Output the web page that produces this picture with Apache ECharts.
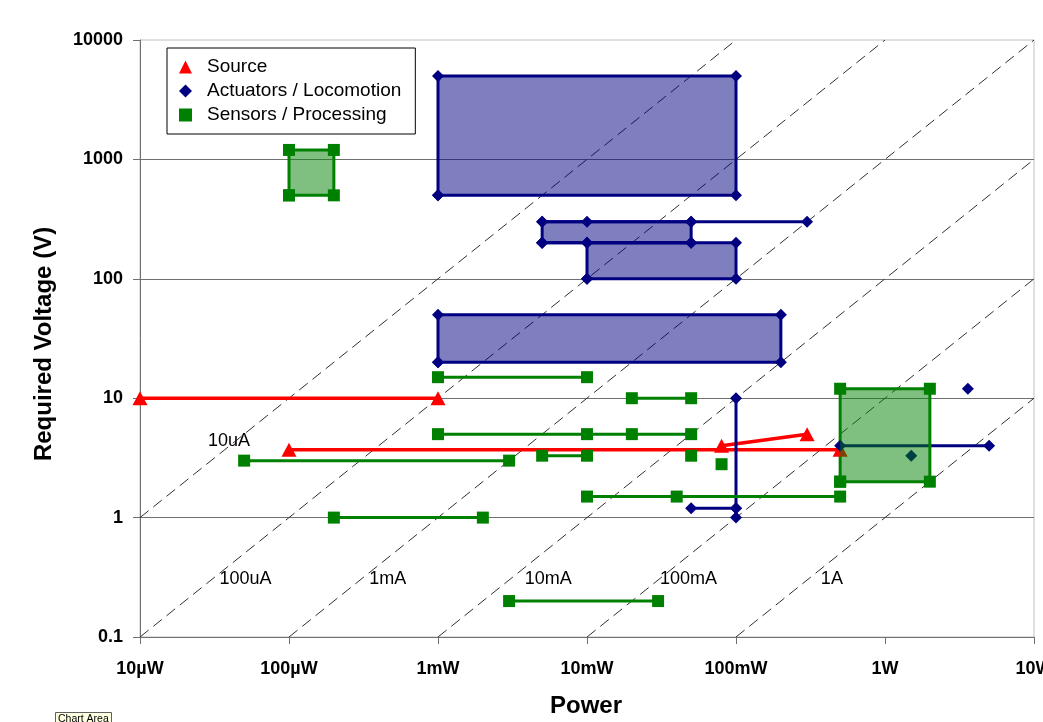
<!DOCTYPE html>
<html><head><meta charset="utf-8">
<script src="https://cdn.jsdelivr.net/npm/echarts@6/dist/echarts.min.js"></script>
<style>html,body{margin:0;padding:0;background:#fff}#c{width:1043px;height:722px}</style>
</head><body><div id="c"></div>
<script>
// ---- tick labels ----
const xTickLabels = ['10µW','100µW','1mW','10mW','100mW','1W','10W'];
const yTickLabels = ['0.1','1','10','100','1000','10000'];

// ---- Source (power W, voltage V) ----
const sourceLines = [
  [[1e-5,10],[1e-3,10]],
  [[1e-4,3.7],[0.5,3.7]],
  [[0.08,4],[0.3,5]]
];

// ---- Actuators / Locomotion ----
// boxes: [Pmin, Vmin, Pmax, Vmax]
const actuatorBoxes = [
  [1e-3,500,0.1,5000],
  [5e-3,200,0.05,300],
  [0.01,100,0.1,200],
  [1e-3,20,0.2,50]
];
const actuatorLines = [
  [[5e-3,300],[0.01,300],[0.05,300],[0.3,300]],
  [[5e-3,200],[0.01,200],[0.05,200]],
  [[0.1,10],[0.1,1.2],[0.1,1]],
  [[0.05,1.2],[0.1,1.2]],
  [[0.5,4],[5,4]]
];
const actuatorPoints = [[3.6,12],[1.5,3.3]];

// ---- Sensors / Processing ----
const sensorBoxes = [
  [1e-4,500,2e-4,1200],
  [0.5,2,2,12]
];
const sensorLines = [
  [[1e-3,15],[0.01,15]],
  [[0.02,10],[0.05,10]],
  [[1e-3,5],[0.01,5],[0.02,5],[0.05,5]],
  [[5e-5,3],[3e-3,3]],
  [[5e-3,3.3],[0.01,3.3]],
  [[0.01,1.5],[0.04,1.5],[0.5,1.5]],
  [[2e-4,1],[2e-3,1]],
  [[3e-3,0.2],[0.03,0.2]]
];
const sensorPoints = [[0.05,3.3],[0.08,2.8]];

// ---- constant-current guide lines ----
const currentNames = ['10uA','100uA','1mA','10mA','100mA','1A'];
const currentLineEnds = [
  [[1e-5,1],[0.1,10000]],
  [[1e-5,0.1],[1,10000]],
  [[1e-4,0.1],[10,10000]],
  [[1e-3,0.1],[10,1000]],
  [[0.01,0.1],[10,100]],
  [[0.1,0.1],[10,10]]
];
const currentLabelAt = [[3.96e-5,4.36],[5.1e-5,0.305],[4.6e-4,0.305],[5.5e-3,0.305],[0.048,0.305],[0.44,0.305]];

const FF = '"Liberation Sans", Arial, sans-serif';
const RED = '#ff0000', NAVY = '#000080', GREEN = '#008000';

function boxLoop(b){ return [[b[0],b[1]],[b[0],b[3]],[b[2],b[3]],[b[2],b[1]],[b[0],b[1]]]; }
function lineSeries(name, data, color, symbol, size, width){
  return {type:'line', name, data, symbol, symbolSize:size, showSymbol:true, showAllSymbol:true, z:2,
    lineStyle:{color, width}, itemStyle:{color, borderWidth:0, opacity:1}, emphasis:{disabled:true}, silent:true, animation:false};
}
function fillSeries(boxes, fill){
  return {type:'custom', data:boxes, encode:{x:[0,2], y:[1,3]}, z:3, silent:true, animation:false, clip:false,
    renderItem:(params, api)=>{
      const a = api.coord([api.value(0), api.value(1)]);
      const b = api.coord([api.value(2), api.value(3)]);
      return {type:'rect', shape:{x:Math.min(a[0],b[0]), y:Math.min(a[1],b[1]), width:Math.abs(b[0]-a[0]), height:Math.abs(b[1]-a[1])}, style:{fill}};
    }};
}

const series = [];
currentLineEnds.forEach(seg => series.push({type:'line', data:seg, symbol:'none', silent:true, z:1, animation:false,
  lineStyle:{color:'#303030', width:1, type:[11,6]}}));

sourceLines.forEach(d => series.push(lineSeries('Source', d, RED, 'triangle', [15,14], 3.5)));
actuatorBoxes.forEach(b => series.push(lineSeries('Actuators / Locomotion', boxLoop(b), NAVY, 'diamond', 12, 3)));
actuatorLines.forEach(d => series.push(lineSeries('Actuators / Locomotion', d, NAVY, 'diamond', 12, 3)));
series.push({type:'scatter', name:'Actuators / Locomotion', data:actuatorPoints, symbol:'diamond', symbolSize:12, z:2, silent:true, animation:false, itemStyle:{color:NAVY, opacity:1}});
sensorBoxes.forEach(b => series.push(lineSeries('Sensors / Processing', boxLoop(b), GREEN, 'rect', 12, 3)));
sensorLines.forEach(d => series.push(lineSeries('Sensors / Processing', d, GREEN, 'rect', 12, 3)));
series.push({type:'scatter', name:'Sensors / Processing', data:sensorPoints, symbol:'rect', symbolSize:12, z:2, silent:true, animation:false, itemStyle:{color:GREEN, opacity:1}});

series.push(fillSeries(actuatorBoxes, 'rgba(0,0,128,0.5)'));
series.push(fillSeries(sensorBoxes, 'rgba(0,128,0,0.5)'));

series.push({type:'scatter', data:currentLabelAt.map((p,i)=>[p[0],p[1],currentNames[i]]), symbolSize:1, z:4, silent:true, animation:false,
  itemStyle:{color:'#fff', opacity:1},
  label:{show:true, position:'inside', formatter:p=>p.value[2], color:'#000', opacity:1, fontSize:18, fontFamily:FF}});

const chart = echarts.init(document.getElementById('c'), null, {renderer:'canvas'});
chart.setOption({
  backgroundColor:'#fff',
  animation:false,
  grid:{left:140, right:9, top:40, bottom:85, show:true, borderColor:'#c0c0c0', borderWidth:1, backgroundColor:'rgba(0,0,0,0)',
    containLabel:false, outerBoundsMode:'none'},
  legend:{
    data:[{name:'Source', icon:'triangle'},{name:'Actuators / Locomotion', icon:'diamond'},{name:'Sensors / Processing', icon:'rect'}],
    orient:'vertical', left:167, top:48, itemWidth:13, itemHeight:13, itemGap:5,
    padding:[9.5,14,9.5,12], borderColor:'#000', borderWidth:1, backgroundColor:'#fff', selectedMode:false,
    textStyle:{fontSize:19, color:'#000', fontFamily:FF, padding:[0,0,0,10]}
  },
  xAxis:{type:'log', logBase:10, min:1e-5, max:10,
    axisLine:{onZero:false, lineStyle:{color:'#707070', width:1}},
    axisTick:{show:true, length:7, lineStyle:{color:'#707070'}},
    splitLine:{show:false}, minorTick:{show:false},
    axisLabel:{margin:23, fontSize:18, fontWeight:'bold', color:'#000', fontFamily:FF, hideOverlap:false,
      formatter:v=>xTickLabels[Math.round(Math.log10(v))+5]}
  },
  yAxis:{type:'log', logBase:10, min:0.1, max:10000,
    axisLine:{show:true, onZero:false, lineStyle:{color:'#707070', width:1}},
    axisTick:{show:true, length:7, lineStyle:{color:'#707070'}},
    splitLine:{show:true, showMaxLine:false, lineStyle:{color:'#707070', width:1}},
    minorTick:{show:false},
    axisLabel:{margin:17, fontSize:18, fontWeight:'bold', color:'#000', fontFamily:FF,
      formatter:v=>yTickLabels[Math.round(Math.log10(v))+1]}
  },
  graphic:[
    {type:'text', x:44, y:344, rotation:Math.PI/2, style:{text:'Required Voltage (V)', font:'bold 24px '+FF, fill:'#000', align:'center', verticalAlign:'middle'}},
    {type:'text', x:586, y:706, style:{text:'Power', font:'bold 24px '+FF, fill:'#000', align:'center', verticalAlign:'middle'}},
    {type:'rect', shape:{x:55.5, y:712.5, width:56, height:14}, style:{fill:'#ffffe1', stroke:'#606060', lineWidth:1}},
    {type:'text', x:58, y:714, style:{text:'Chart Area', font:'10.5px '+FF, fill:'#000', align:'left', verticalAlign:'top'}}
  ],
  series
});
</script></body></html>
